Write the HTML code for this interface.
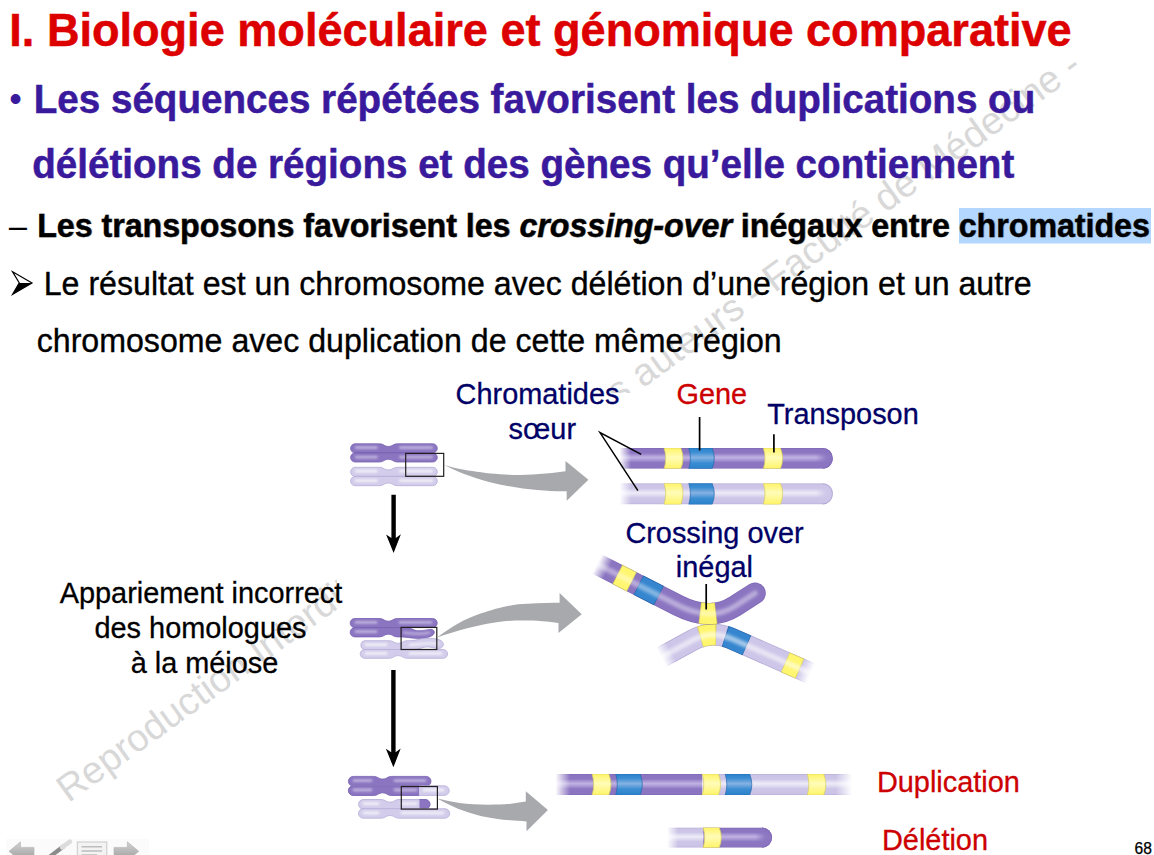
<!DOCTYPE html>
<html lang="fr">
<head>
<meta charset="utf-8">
<title>I. Biologie moléculaire et génomique comparative</title>
<style>
html,body{margin:0;padding:0;background:#fff;}
body{width:1154px;height:855px;overflow:hidden;position:relative;}
svg{position:absolute;left:0;top:0;display:block;}
text{font-family:"Liberation Sans",Arial,Helvetica,sans-serif;}
.t{font-size:45.1px;font-weight:bold;fill:#dd0000;stroke:#dd0000;stroke-width:.5px;}
.h{font-size:38.6px;font-weight:bold;fill:#3a1a9c;stroke:#3a1a9c;stroke-width:.5px;}
.b{font-size:32.15px;font-weight:bold;fill:#000;stroke:#000;stroke-width:.4px;}
.n{font-size:32.15px;fill:#000;stroke:#000;stroke-width:.35px;}
.l{font-size:28.9px;fill:#000066;stroke:#000066;stroke-width:.3px;}
.r{font-size:28.9px;fill:#cc0000;stroke:#cc0000;stroke-width:.3px;}
.k{font-size:28.9px;fill:#000;stroke:#000;stroke-width:.3px;}
.w{font-size:38px;fill:#d8d8d8;}
</style>
</head>
<body>
<svg id="slide" width="1154" height="855" viewBox="0 0 1154 855">
<defs>
</defs>
<!-- watermark -->
<g id="wm">
<text class="w" transform="translate(68.5 803.2) rotate(-35.8)" x="0" y="0">Reproduction Interdite sans autorisation</text>
<text class="w" transform="translate(1083.5 70.5) rotate(-35.8)" x="0" y="0" text-anchor="end" style="font-size:38.5px">des auteurs - Faculté de Médecine -</text>
</g>
<!-- figure white background -->
<rect x="337" y="393" width="640" height="462" fill="#fff"/>
<!-- FIGURE -->
<g id="figure">
<defs>
<filter id="bl" x="-10%" y="-30%" width="120%" height="160%"><feGaussianBlur stdDeviation="1.6"/></filter>
<filter id="bs" filterUnits="userSpaceOnUse" x="330" y="430" width="140" height="400"><feGaussianBlur stdDeviation=".9"/></filter>
<linearGradient id="gmbd" gradientUnits="userSpaceOnUse" x1="597" y1="564" x2="608" y2="569.7"><stop offset="0" stop-color="#fff" stop-opacity="0"/><stop offset="1" stop-color="#fff" stop-opacity="1"/></linearGradient>
<mask id="mbd" maskUnits="userSpaceOnUse" x="0" y="0" width="1154" height="855"><rect x="570" y="530" width="220" height="120" fill="url(#gmbd)"/></mask>
<linearGradient id="gmbl1" gradientUnits="userSpaceOnUse" x1="661" y1="657.4" x2="671.5" y2="651.7"><stop offset="0" stop-color="#fff" stop-opacity="0"/><stop offset="1" stop-color="#fff" stop-opacity="1"/></linearGradient>
<mask id="mbl1" maskUnits="userSpaceOnUse" x="0" y="0" width="1154" height="855"><rect x="640" y="600" width="200" height="110" fill="url(#gmbl1)"/></mask>
<linearGradient id="gmbl2" gradientUnits="userSpaceOnUse" x1="810.5" y1="674.4" x2="799.5" y2="669.6"><stop offset="0" stop-color="#fff" stop-opacity="0"/><stop offset="1" stop-color="#fff" stop-opacity="1"/></linearGradient>
<mask id="mbl2" maskUnits="userSpaceOnUse" x="0" y="0" width="1154" height="855"><rect x="640" y="600" width="200" height="110" fill="url(#gmbl2)"/></mask>
</defs>
<defs>
<linearGradient id="gd" x1="0" y1="0" x2="0" y2="1">
<stop offset="0" stop-color="#7f69b6"/><stop offset=".07" stop-color="#8b75c1"/><stop offset=".24" stop-color="#8c76c2"/><stop offset=".35" stop-color="#a997d5"/><stop offset=".46" stop-color="#c0b3e2"/><stop offset=".58" stop-color="#a997d5"/><stop offset=".7" stop-color="#8c76c2"/><stop offset=".93" stop-color="#8b75c1"/><stop offset="1" stop-color="#7f69b6"/>
</linearGradient>
<linearGradient id="gl" x1="0" y1="0" x2="0" y2="1">
<stop offset="0" stop-color="#b4acd6"/><stop offset=".07" stop-color="#cbc3e6"/><stop offset=".24" stop-color="#cdc6e8"/><stop offset=".35" stop-color="#dedaf0"/><stop offset=".46" stop-color="#eeebf8"/><stop offset=".58" stop-color="#dedaf0"/><stop offset=".7" stop-color="#cdc6e8"/><stop offset=".93" stop-color="#cbc3e6"/><stop offset="1" stop-color="#b4acd6"/>
</linearGradient>
<linearGradient id="gy" x1="0" y1="0" x2="0" y2="1">
<stop offset="0" stop-color="#fff466"/><stop offset=".46" stop-color="#fffcb8"/><stop offset="1" stop-color="#fff466"/>
</linearGradient>
<linearGradient id="gb" x1="0" y1="0" x2="0" y2="1">
<stop offset="0" stop-color="#2a82cb"/><stop offset=".2" stop-color="#3a8dd2"/><stop offset=".46" stop-color="#86b2e3"/><stop offset=".72" stop-color="#3a8dd2"/><stop offset="1" stop-color="#2a82cb"/>
</linearGradient>
<linearGradient id="capd" x1="0" y1="0" x2="1" y2="0"><stop offset="0" stop-color="#8b75c1" stop-opacity="0"/><stop offset=".6" stop-color="#8b75c1" stop-opacity=".9"/><stop offset="1" stop-color="#8b75c1"/></linearGradient>
<linearGradient id="capl" x1="0" y1="0" x2="1" y2="0"><stop offset="0" stop-color="#cdc6e8" stop-opacity="0"/><stop offset=".6" stop-color="#cdc6e8" stop-opacity=".9"/><stop offset="1" stop-color="#cdc6e8"/></linearGradient>

<linearGradient id="mg1" gradientUnits="userSpaceOnUse" x1="619.4" y1="0" x2="1154" y2="0"><stop offset="0.0000" stop-color="#fff" stop-opacity="0"/><stop offset="0.0217" stop-color="#fff" stop-opacity="1"/><stop offset="1.0000" stop-color="#fff" stop-opacity="1"/></linearGradient>
<mask id="m1" maskUnits="userSpaceOnUse" x="0" y="0" width="1154" height="855"><rect x="618.4" y="0" width="536.6" height="855" fill="url(#mg1)"/></mask>
<linearGradient id="mg2" gradientUnits="userSpaceOnUse" x1="555.4" y1="0" x2="852" y2="0"><stop offset="0.0000" stop-color="#fff" stop-opacity="0"/><stop offset="0.0492" stop-color="#fff" stop-opacity="1"/><stop offset="0.9461" stop-color="#fff" stop-opacity="1"/><stop offset="1.0000" stop-color="#fff" stop-opacity="0"/></linearGradient>
<mask id="m2" maskUnits="userSpaceOnUse" x="0" y="0" width="1154" height="855"><rect x="554.4" y="0" width="298.6" height="855" fill="url(#mg2)"/></mask>
<linearGradient id="mg3" gradientUnits="userSpaceOnUse" x1="667" y1="0" x2="1154" y2="0"><stop offset="0.0000" stop-color="#fff" stop-opacity="0"/><stop offset="0.0226" stop-color="#fff" stop-opacity="1"/><stop offset="1.0000" stop-color="#fff" stop-opacity="1"/></linearGradient>
<mask id="m3" maskUnits="userSpaceOnUse" x="0" y="0" width="1154" height="855"><rect x="666" y="0" width="489" height="855" fill="url(#mg3)"/></mask>
</defs>
<g mask="url(#m1)">
<clipPath id="c619_448"><path d="M619.4,448 H822.8 A10,10.400000000000006 0 0 1 822.8,468.8 H619.4 Z"/></clipPath>
<g clip-path="url(#c619_448)">
<rect x="619.4" y="448" width="213.60000000000002" height="20.80000000000001" fill="url(#gd)"/>
<path d="M664.1,448 Q667.3000000000001,458.4 664.1,468.8 L680.8000000000001,468.8 Q685.2000000000002,458.4 680.8000000000001,448 Z" fill="url(#gy)" stroke="#d9cf5e" stroke-width=".7"/>
<path d="M688.8,448 Q692.0,458.4 688.8,468.8 L712.1,468.8 Q716.5000000000001,458.4 712.1,448 Z" fill="url(#gb)" stroke="#2468ad" stroke-width=".7"/>
<path d="M763.4,448 Q766.6,458.4 763.4,468.8 L780.4,468.8 Q784.8000000000001,458.4 780.4,448 Z" fill="url(#gy)" stroke="#d9cf5e" stroke-width=".7"/>
<rect x="815.8" y="450" width="17" height="16.80000000000001" fill="url(#capd)"/>
<path d="M822.8,448 A10,10.400000000000006 0 0 1 822.8,468.8" fill="none" stroke="#7f69b6" stroke-width="1.6"/>
</g>
</g>
<g mask="url(#m1)">
<clipPath id="c619_483"><path d="M619.4,483.2 H822.8 A10,10.599999999999994 0 0 1 822.8,504.4 H619.4 Z"/></clipPath>
<g clip-path="url(#c619_483)">
<rect x="619.4" y="483.2" width="213.60000000000002" height="21.19999999999999" fill="url(#gl)"/>
<path d="M664.1,483.2 Q667.3000000000001,493.79999999999995 664.1,504.4 L680.8000000000001,504.4 Q685.2000000000002,493.79999999999995 680.8000000000001,483.2 Z" fill="url(#gy)" stroke="#d9cf5e" stroke-width=".7"/>
<path d="M688.8,483.2 Q692.0,493.79999999999995 688.8,504.4 L712.1,504.4 Q716.5000000000001,493.79999999999995 712.1,483.2 Z" fill="url(#gb)" stroke="#2468ad" stroke-width=".7"/>
<path d="M763.4,483.2 Q766.6,493.79999999999995 763.4,504.4 L780.4,504.4 Q784.8000000000001,493.79999999999995 780.4,483.2 Z" fill="url(#gy)" stroke="#d9cf5e" stroke-width=".7"/>
<rect x="815.8" y="485.2" width="17" height="17.19999999999999" fill="url(#capl)"/>
<path d="M822.8,483.2 A10,10.599999999999994 0 0 1 822.8,504.4" fill="none" stroke="#b0a8d2" stroke-width="1.6"/>
</g>
</g>
<g mask="url(#m2)">
<clipPath id="c555_773"><path d="M555.4,773.9 H852 V795.1 H555.4 Z"/></clipPath>
<g clip-path="url(#c555_773)">
<rect x="555" y="773.9" width="147.20000000000005" height="21.200000000000045" fill="url(#gd)"/>
<rect x="702.2" y="773.9" width="149.79999999999995" height="21.200000000000045" fill="url(#gl)"/>
<path d="M592.1,773.9 Q595.3000000000001,784.5 592.1,795.1 L608.8000000000001,795.1 Q613.2000000000002,784.5 608.8000000000001,773.9 Z" fill="url(#gy)" stroke="#d9cf5e" stroke-width=".7"/>
<path d="M615.7,773.9 Q618.9000000000001,784.5 615.7,795.1 L640.1,795.1 Q644.5000000000001,784.5 640.1,773.9 Z" fill="url(#gb)" stroke="#2468ad" stroke-width=".7"/>
<path d="M702.2,773.9 Q705.4000000000001,784.5 702.2,795.1 L718.4,795.1 Q722.8000000000001,784.5 718.4,773.9 Z" fill="url(#gy)" stroke="#d9cf5e" stroke-width=".7"/>
<path d="M725.2,773.9 Q728.4000000000001,784.5 725.2,795.1 L749.6,795.1 Q754.0000000000001,784.5 749.6,773.9 Z" fill="url(#gb)" stroke="#2468ad" stroke-width=".7"/>
<path d="M807.3,773.9 Q810.5,784.5 807.3,795.1 L823.7,795.1 Q828.1000000000001,784.5 823.7,773.9 Z" fill="url(#gy)" stroke="#d9cf5e" stroke-width=".7"/>
</g>
</g>
<g mask="url(#m3)">
<clipPath id="c667_827"><path d="M667,827.4 H762 A10,10.150000000000034 0 0 1 762,847.7 H667 Z"/></clipPath>
<g clip-path="url(#c667_827)">
<rect x="667" y="827.4" width="36.10000000000002" height="20.300000000000068" fill="url(#gl)"/>
<rect x="703.1" y="827.4" width="68.89999999999998" height="20.300000000000068" fill="url(#gd)"/>
<path d="M703.1,827.4 Q706.3000000000001,837.55 703.1,847.7 L719.1,847.7 Q723.5000000000001,837.55 719.1,827.4 Z" fill="url(#gy)" stroke="#d9cf5e" stroke-width=".7"/>
<rect x="755" y="829.4" width="17" height="16.300000000000068" fill="url(#capd)"/>
<path d="M762,827.4 A10,10.150000000000034 0 0 1 762,847.7" fill="none" stroke="#7f69b6" stroke-width="1.6"/>
</g>
</g>
<g mask="url(#mbl1)">
<g mask="url(#mbl2)">
<path d="M659.5,658.2 L692,640.5 Q711.3,629.9 731,638.4 L812,674" fill="none" stroke="#b4acd6" stroke-width="21.6" stroke-linecap="butt"/>
<path d="M659.5,658.2 L692,640.5 Q711.3,629.9 731,638.4 L812,674" fill="none" stroke="#cdc6e8" stroke-width="20.0" stroke-linecap="butt"/>
<path d="M700.1,636.9 L704.1,635.7 L708.2,635.0 L712.2,634.6 L716.2,634.7" fill="none" stroke="#d9cf5e" stroke-width="21.6"/>
<path d="M700.8,636.7 L704.4,635.7 L708.2,635.0 L711.8,634.7 L715.4,634.7" fill="none" stroke="#fff670" stroke-width="20.200000000000003"/>
<path d="M725.1,636.3 L727.9,637.2 L730.5,638.2 L746.9,645.4" fill="none" stroke="#2468ad" stroke-width="21.6"/>
<path d="M725.8,636.5 L730.6,638.2 L746.4,645.2" fill="none" stroke="#3586cf" stroke-width="20.200000000000003"/>
<path d="M785.3,662.3 L799.9,668.7" fill="none" stroke="#d9cf5e" stroke-width="21.6"/>
<path d="M785.8,662.5 L799.3,668.4" fill="none" stroke="#fff670" stroke-width="20.200000000000003"/>
<path d="M659.5,658.2 L692,640.5 Q711.3,629.9 731,638.4 L812,674" fill="none" stroke="#fff" stroke-opacity="0.55" stroke-width="5.5" stroke-linecap="butt" filter="url(#bl)"/>
</g>
</g>
<g mask="url(#mbd)">
<path d="M595,563 L678,605.3 Q710.5,621.9 735,606.2 L755,593.2" fill="none" stroke="#7f69b6" stroke-width="21.6" stroke-linecap="round"/>
<path d="M595,563 L678,605.3 Q710.5,621.9 735,606.2 L755,593.2" fill="none" stroke="#8b75c1" stroke-width="20.0" stroke-linecap="round"/>
<path d="M617.4,574.4 L631.8,581.8" fill="none" stroke="#d9cf5e" stroke-width="21.6"/>
<path d="M618.0,574.7 L631.2,581.5" fill="none" stroke="#fff670" stroke-width="20.200000000000003"/>
<path d="M638.4,585.1 L658.9,595.6" fill="none" stroke="#2468ad" stroke-width="21.6"/>
<path d="M639.0,585.4 L658.4,595.3" fill="none" stroke="#3586cf" stroke-width="20.200000000000003"/>
<path d="M699.8,613.0 L703.9,613.5 L708.1,613.8 L712.1,613.8 L716.1,613.3" fill="none" stroke="#d9cf5e" stroke-width="21.6"/>
<path d="M700.6,613.1 L704.5,613.6 L708.1,613.8 L711.7,613.8 L715.4,613.4" fill="none" stroke="#fff670" stroke-width="20.200000000000003"/>
<path d="M595,563 L678,605.3 Q710.5,621.9 735,606.2 L755,593.2" fill="none" stroke="#fff" stroke-opacity="0.4" stroke-width="5.5" stroke-linecap="round" filter="url(#bl)"/>
</g>
<path d="M355.15,443.79999999999995 H379.4 C383.9,443.79999999999995 383.9,446.49999999999994 388.4,446.49999999999994 C392.9,446.49999999999994 392.9,443.79999999999995 397.4,443.79999999999995 H432.75 A4.550000000000011,4.550000000000011 0 0 1 432.75,452.9 H355.15 A4.550000000000011,4.550000000000011 0 0 1 355.15,443.79999999999995 Z" fill="#8b75c1" stroke="#7660b0" stroke-width=".8"/>
<path d="M355.15,452.9 H432.75 A4.550000000000011,4.550000000000011 0 0 1 432.75,462.0 H397.4 C392.9,462.0 392.9,459.3 388.4,459.3 C383.9,459.3 383.9,462.0 379.4,462.0 H355.15 A4.550000000000011,4.550000000000011 0 0 1 355.15,452.9 Z" fill="#8b75c1" stroke="#7660b0" stroke-width=".8"/>
<path d="M356.2,447.54999999999995 H376.4" stroke="#fff" stroke-opacity="0.45" stroke-width="2.8" stroke-linecap="round" filter="url(#bs)"/>
<path d="M400.4,447.54999999999995 H431.7" stroke="#fff" stroke-opacity="0.45" stroke-width="2.8" stroke-linecap="round" filter="url(#bs)"/>
<path d="M356.2,457.04999999999995 H376.4" stroke="#fff" stroke-opacity="0.45" stroke-width="2.8" stroke-linecap="round" filter="url(#bs)"/>
<path d="M400.4,457.04999999999995 H431.7" stroke="#fff" stroke-opacity="0.45" stroke-width="2.8" stroke-linecap="round" filter="url(#bs)"/>
<path d="M355.15,467.29999999999995 H379.4 C383.9,467.29999999999995 383.9,469.99999999999994 388.4,469.99999999999994 C392.9,469.99999999999994 392.9,467.29999999999995 397.4,467.29999999999995 H432.75 A4.550000000000011,4.550000000000011 0 0 1 432.75,476.4 H355.15 A4.550000000000011,4.550000000000011 0 0 1 355.15,467.29999999999995 Z" fill="#d3cdeb" stroke="#b5add8" stroke-width=".8"/>
<path d="M355.25,476.4 H432.65 A4.650000000000034,4.650000000000034 0 0 1 432.65,485.70000000000005 H397.4 C392.9,485.70000000000005 392.9,483.00000000000006 388.4,483.00000000000006 C383.9,483.00000000000006 383.9,485.70000000000005 379.4,485.70000000000005 H355.25 A4.650000000000034,4.650000000000034 0 0 1 355.25,476.4 Z" fill="#d3cdeb" stroke="#b5add8" stroke-width=".8"/>
<path d="M356.2,471.04999999999995 H376.4" stroke="#fff" stroke-opacity="0.7" stroke-width="2.8" stroke-linecap="round" filter="url(#bs)"/>
<path d="M400.4,471.04999999999995 H431.7" stroke="#fff" stroke-opacity="0.7" stroke-width="2.8" stroke-linecap="round" filter="url(#bs)"/>
<path d="M356.2,480.65 H376.4" stroke="#fff" stroke-opacity="0.7" stroke-width="2.8" stroke-linecap="round" filter="url(#bs)"/>
<path d="M400.4,480.65 H431.7" stroke="#fff" stroke-opacity="0.7" stroke-width="2.8" stroke-linecap="round" filter="url(#bs)"/>
<rect x="405.7" y="453.4" width="38" height="22.9" fill="none" stroke="#231f20" stroke-width="1.2"/>
<path d="M354.75,618.5 H379.4 C383.9,618.5 383.9,621.2 388.4,621.2 C392.9,621.2 392.9,618.5 397.4,618.5 H432.65 A4.550000000000011,4.550000000000011 0 0 1 432.65,627.6 H354.75 A4.550000000000011,4.550000000000011 0 0 1 354.75,618.5 Z" fill="#8b75c1" stroke="#7660b0" stroke-width=".8"/>
<path d="M354.9,627.6 H406 C412,627.6 413,630.6 418,630.8 C424,631 428,629.2 431,629.4 C435.3,629.8 435.6,634 431,636.2 C426,638.5 421,638.7 416,638.3 C408,637.6 404,636.9 399,636.9 H397.4 C392.9,636.9 392.9,634.1999999999999 388.4,634.1999999999999 C383.9,634.1999999999999 383.9,636.9 379.4,636.9 H354.9 A4.7,4.6000000000000005 0 0 1 354.9,627.6 Z" fill="#8b75c1" stroke="#7660b0" stroke-width=".8"/>
<path d="M364.9,640.7 H389.2 C393.7,640.7 393.7,643.4000000000001 398.2,643.4000000000001 C402.7,643.4000000000001 402.7,640.7 407.2,640.7 H410 C416,640.7 420,638.4 426,638.3 C432,638.2 438,638.7 441,640.6 C444.6,643 444,647.2 440,648.3 C436,649 432,647 428,646.9 C422,646.8 420,649.6 414,649.6 H364.9 A4.7,4.5 0 0 1 364.9,640.7 Z" fill="#d3cdeb" stroke="#b5add8" stroke-width=".8"/>
<path d="M364.59999999999997,649.5 H443.20000000000005 A4.399999999999977,4.399999999999977 0 0 1 443.20000000000005,658.3 H407.2 C402.7,658.3 402.7,655.5999999999999 398.2,655.5999999999999 C393.7,655.5999999999999 393.7,658.3 389.2,658.3 H364.59999999999997 A4.399999999999977,4.399999999999977 0 0 1 364.59999999999997,649.5 Z" fill="#d3cdeb" stroke="#b5add8" stroke-width=".8"/>
<path d="M356,622.4 H376" stroke="#fff" stroke-opacity="0.45" stroke-width="2.8" stroke-linecap="round" filter="url(#bs)"/>
<path d="M400,622.4 H431" stroke="#fff" stroke-opacity="0.45" stroke-width="2.8" stroke-linecap="round" filter="url(#bs)"/>
<path d="M356,631.6 H376" stroke="#fff" stroke-opacity="0.45" stroke-width="2.8" stroke-linecap="round" filter="url(#bs)"/>
<path d="M404,632.6 C412,633.6 422,635 429,632.6" stroke="#fff" stroke-opacity=".4" stroke-width="2.4" fill="none" stroke-linecap="round" filter="url(#bs)"/>
<path d="M366,644.6 H386" stroke="#fff" stroke-opacity="0.7" stroke-width="2.8" stroke-linecap="round" filter="url(#bs)"/>
<path d="M410,645 C418,644.6 424,642.6 438,643.6" stroke="#fff" stroke-opacity=".65" stroke-width="2.4" fill="none" stroke-linecap="round" filter="url(#bs)"/>
<path d="M366,653.4 H386" stroke="#fff" stroke-opacity="0.7" stroke-width="2.8" stroke-linecap="round" filter="url(#bs)"/>
<path d="M410,653.4 H441" stroke="#fff" stroke-opacity="0.7" stroke-width="2.8" stroke-linecap="round" filter="url(#bs)"/>
<rect x="401.1" y="627.4" width="35.7" height="22.1" fill="none" stroke="#231f20" stroke-width="1.2"/>
<path d="M353.3,776.4 H373.6 C378.1,776.4 378.1,779.1 382.6,779.1 C387.1,779.1 387.1,776.4 391.6,776.4 H426.09999999999997 A4.900000000000034,4.900000000000034 0 0 1 426.09999999999997,786.2 H353.3 A4.900000000000034,4.900000000000034 0 0 1 353.3,776.4 Z" fill="#8b75c1" stroke="#7660b0" stroke-width=".8"/>
<path d="M353.2,785.8 H444.4 A4.800000000000011,4.800000000000011 0 0 1 444.4,795.4 H391.6 C387.1,795.4 387.1,792.6999999999999 382.6,792.6999999999999 C378.1,792.6999999999999 378.1,795.4 373.6,795.4 H353.2 A4.800000000000011,4.800000000000011 0 0 1 353.2,785.8 Z" fill="#d3cdeb" stroke="#b5add8" stroke-width=".8"/>
<clipPath id="cs3a"><rect x="340" y="780" width="79" height="20"/></clipPath>
<path clip-path="url(#cs3a)" d="M353.2,785.8 H444.4 A4.800000000000011,4.800000000000011 0 0 1 444.4,795.4 H391.6 C387.1,795.4 387.1,792.6999999999999 382.6,792.6999999999999 C378.1,792.6999999999999 378.1,795.4 373.6,795.4 H353.2 A4.800000000000011,4.800000000000011 0 0 1 353.2,785.8 Z" fill="#8b75c1" stroke="#7660b0" stroke-width=".8"/>
<path d="M363.3,799.5 H381.0 C385.5,799.5 385.5,802.2 390,802.2 C394.5,802.2 394.5,799.5 399.0,799.5 H425.2 A4.800000000000011,4.800000000000011 0 0 1 425.2,809.1 H363.3 A4.800000000000011,4.800000000000011 0 0 1 363.3,799.5 Z" fill="#d3cdeb" stroke="#b5add8" stroke-width=".8"/>
<clipPath id="cs3b"><rect x="419.5" y="795" width="20" height="20"/></clipPath>
<path clip-path="url(#cs3b)" d="M363.3,799.5 H381.0 C385.5,799.5 385.5,802.2 390,802.2 C394.5,802.2 394.5,799.5 399.0,799.5 H425.2 A4.800000000000011,4.800000000000011 0 0 1 425.2,809.1 H363.3 A4.800000000000011,4.800000000000011 0 0 1 363.3,799.5 Z" fill="#8b75c1" stroke="#7660b0" stroke-width=".8"/>
<path d="M363.25,808.7 H444.95 A4.75,4.75 0 0 1 444.95,818.2 H399.0 C394.5,818.2 394.5,815.5 390,815.5 C385.5,815.5 385.5,818.2 381.0,818.2 H363.25 A4.75,4.75 0 0 1 363.25,808.7 Z" fill="#d3cdeb" stroke="#b5add8" stroke-width=".8"/>
<path d="M354,780.6 H371" stroke="#fff" stroke-opacity="0.45" stroke-width="2.8" stroke-linecap="round" filter="url(#bs)"/>
<path d="M395,780.6 H425" stroke="#fff" stroke-opacity="0.45" stroke-width="2.8" stroke-linecap="round" filter="url(#bs)"/>
<path d="M354,790 H371" stroke="#fff" stroke-opacity="0.45" stroke-width="2.8" stroke-linecap="round" filter="url(#bs)"/>
<path d="M395,790 H416" stroke="#fff" stroke-opacity="0.45" stroke-width="2.8" stroke-linecap="round" filter="url(#bs)"/>
<path d="M424,790 H443" stroke="#fff" stroke-opacity="0.7" stroke-width="2.8" stroke-linecap="round" filter="url(#bs)"/>
<path d="M364,803.6 H378" stroke="#fff" stroke-opacity="0.7" stroke-width="2.8" stroke-linecap="round" filter="url(#bs)"/>
<path d="M402,803.6 H416" stroke="#fff" stroke-opacity="0.7" stroke-width="2.8" stroke-linecap="round" filter="url(#bs)"/>
<path d="M364,812.8 H378" stroke="#fff" stroke-opacity="0.7" stroke-width="2.8" stroke-linecap="round" filter="url(#bs)"/>
<path d="M402,812.8 H443" stroke="#fff" stroke-opacity="0.7" stroke-width="2.8" stroke-linecap="round" filter="url(#bs)"/>
<rect x="401.3" y="786.5" width="36.1" height="22.6" fill="none" stroke="#231f20" stroke-width="1.2"/>
<path d="M444,465 C462,470.5 500,476.5 533,474.6 Q550,473.6 565.5,471.2 L565.5,461.1 L588.4,479.8 L566.7,500.8 L566.7,491.3 C545,491.6 518,489.2 489,482 C470,477 455,470.5 444,465 Z" fill="#a7a9ac"/>
<path d="M437.1,637.5 C444,632 452,627 459.5,622.7 C470,616.5 500,606 518.4,604.3 Q540,602.5 559.6,602.8 L559.6,593 L581.7,614.2 L558.5,633 L558.5,623 C545,620.5 520,619.8 503.7,621.2 C480,624 455,631 437.1,637.5 Z" fill="#a7a9ac"/>
<path d="M437.4,798.6 C445,800.5 452,802 459.5,803 C475,805 495,805.2 511,803.7 Q520,802.6 525.8,801.5 L525.8,791.2 L547.9,809.9 L526.5,831.3 L526.5,821.4 C515,821 498,819.5 481.6,816.2 C465,812.5 450,806 437.4,798.6 Z" fill="#a7a9ac"/>
<path d="M391.40000000000003,494.8 H395.8 V538 L400.90000000000003,534.3 L393.6,553 L386.1,534.5 L391.40000000000003,538 Z" fill="#000"/>
<path d="M391.2,670 H395.59999999999997 V752.3 L400.7,748.5999999999999 L393.4,767.3 L385.9,748.8 L391.2,752.3 Z" fill="#000"/>
<path d="M641.2,454.3 L600,432.6 L637.9,490.6" fill="none" stroke="#000" stroke-width="1.5"/>
<path d="M699.6,417 V450.4 M773.9,434.3 V452.6 M706.2,584 V609.5" fill="none" stroke="#000" stroke-width="1.7"/>
<g id="nav" transform="translate(0 1.8)">
<rect x="6" y="837" width="143" height="18" fill="#fbfbfb"/>
<linearGradient id="gn" x1="0" y1="0" x2="0" y2="1"><stop offset="0" stop-color="#d2d2d2"/><stop offset="1" stop-color="#9c9c9c"/></linearGradient>
<path d="M9,849.5 L20.5,840 V845.6 H34 V854 H20.5 V859 Z" fill="url(#gn)" stroke="#b4b4b4" stroke-width=".6"/>
<path d="M138.8,849.5 L127.3,840 V845.6 H114 V854 H127.3 V859 Z" fill="url(#gn)" stroke="#b4b4b4" stroke-width=".6"/>
<path d="M47,857 L63,845" stroke="#8c8c8c" stroke-width="4.2" stroke-linecap="round"/>
<path d="M62,845.6 L70,839.8" stroke="#dcdcdc" stroke-width="4.4" stroke-linecap="round"/>
<rect x="77.3" y="840.2" width="29.5" height="17" fill="#f3f3f3" stroke="#c9c9c9" stroke-width="1"/>
<path d="M81.5,845 H102 M81.5,849.3 H102 M81.5,853.2 H97" stroke="#bdbdbd" stroke-width="1.5"/>
</g>
</g>
<!-- headings -->
<text class="t" transform="translate(9.3 46.2) scale(1 1.025)">I. Biologie moléculaire et génomique comparative</text>
<text class="h" x="9.2" y="111" style="font-weight:normal;stroke:none;font-size:36px">•</text>
<text class="h" transform="translate(33.7 112.6) scale(1 1.03)">Les séquences répétées favorisent les duplications ou</text>
<text class="h" transform="translate(32.2 177.6) scale(1 1.03)">délétions de régions et des gènes qu’elle contiennent</text>
<rect x="959" y="208" width="192" height="35.5" fill="#b3d7ff"/>
<text class="b" x="9" y="236.6" style="font-weight:normal;stroke-width:.2px">–</text>
<text class="b" transform="translate(37.2 236.5) scale(1 1.035)" style="text-shadow:.6px .8px 1px rgba(0,0,0,.25)">Les transposons favorisent les <tspan font-style="italic">crossing-over</tspan> inégaux entre chromatides</text>
<g id="bullet"><path d="M12.6 271.8 L32 282.9 L12.6 294.4 L19.3 282.9 Z" fill="#fff" stroke="#000" stroke-width="1.2" stroke-linejoin="miter"/><path d="M19.3 282.9 L32 282.9 L12.6 294.4 Z" fill="#000"/></g>
<text class="n" transform="translate(43.7 294.6) scale(1 1.03)">Le résultat est un chromosome avec délétion d’une région et un autre</text>
<text class="n" transform="translate(36.7 352.3) scale(1 1.03)">chromosome avec duplication de cette même région</text>
<!-- labels -->
<text class="l" x="537.5" y="404" text-anchor="middle">Chromatides</text>
<text class="l" x="542.3" y="438.7" text-anchor="middle">sœur</text>
<text class="r" x="711.8" y="403.9" text-anchor="middle">Gene</text>
<text class="l" x="843" y="424.1" text-anchor="middle">Transposon</text>
<text class="l" x="714.5" y="543" text-anchor="middle">Crossing over</text>
<text class="l" x="714.4" y="577.4" text-anchor="middle">inégal</text>
<text class="k" x="201" y="603" text-anchor="middle">Appariement incorrect</text>
<text class="k" x="200.5" y="637.5" text-anchor="middle">des homologues</text>
<text class="k" x="204.5" y="673" text-anchor="middle">à la méiose</text>
<text class="r" x="948.4" y="792.3" text-anchor="middle">Duplication</text>
<text class="r" x="935" y="850" text-anchor="middle">Délétion</text>
<text x="1143.3" y="853.9" text-anchor="middle" style="font-size:15.6px;fill:#000;stroke:#000;stroke-width:.25px">68</text>
</svg>
</body>
</html>
